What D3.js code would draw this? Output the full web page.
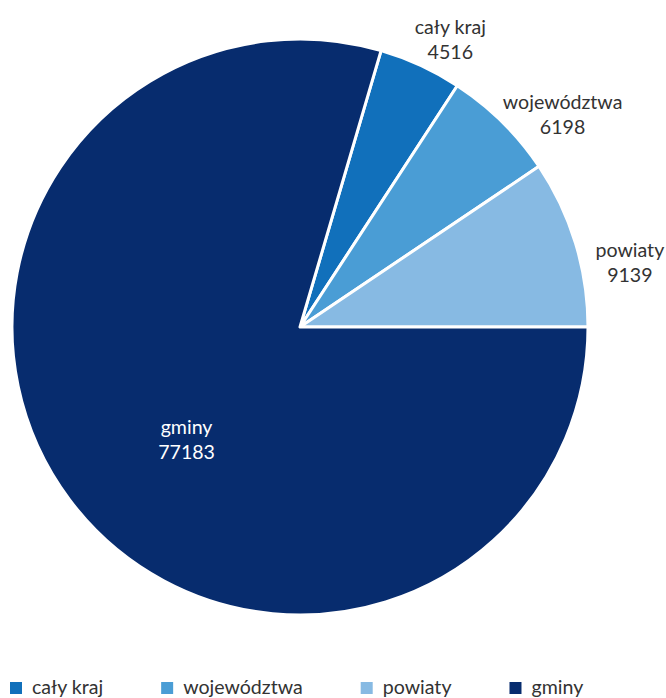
<!DOCTYPE html>
<html><head><meta charset="utf-8">
<script src="https://cdn.jsdelivr.net/npm/d3@7"></script>
<style>body{margin:0;background:#fff}svg{display:block}</style>
</head><body>
<svg id="c" width="666" height="698"></svg>
<script>
const categories = ["cały kraj", "województwa", "powiaty", "gminy"];
const values = [4516, 6198, 9139, 77183];
const colors = ["#1170BB", "#4A9DD5", "#87BAE3", "#072C6E"];

const W = 666, H = 698, cx = 300, cy = 327, R = 288;
const FONT = "Lato, 'Open Sans', sans-serif", FS = 19.6;
const svg = d3.select("#c");
const total = d3.sum(values);
const firstThree = d3.sum(values.slice(0, 3));
const start = Math.PI / 2 - firstThree / total * 2 * Math.PI;
const pie = d3.pie().sort(null).value(d => d).startAngle(start).endAngle(start + 2 * Math.PI);
const arcs = pie(values);
const arc = d3.arc().innerRadius(0).outerRadius(R);
const g = svg.append("g").attr("transform", `translate(${cx},${cy})`);
g.selectAll("path").data(arcs).join("path")
  .attr("d", arc).attr("fill", (d, i) => colors[i])
  .attr("stroke", "#fff").attr("stroke-width", 3).attr("stroke-linejoin", "round");

// labels
arcs.forEach((d, i) => {
  const mid = (d.startAngle + d.endAngle) / 2;
  const lg = g.append("g");
  const t1 = lg.append("text").text(categories[i]);
  const t2 = lg.append("text").text(values[i]);
  [t1, t2].forEach(t => t.attr("font-family", FONT).attr("font-size", FS).attr("text-anchor", "middle"));
  const w = Math.max(t1.node().getComputedTextLength(), t2.node().getComputedTextLength());
  let x, y, fill;
  if (d.endAngle - d.startAngle > Math.PI) {
    const a = mid - 0.14, r = 160;
    x = r * Math.sin(a); y = -r * Math.cos(a) - 2; fill = "#fff";
  } else {
    const r = 300;
    x = r * Math.sin(mid) + (w / 2) * Math.sin(mid) + 10;
    y = -r * Math.cos(mid) - 26 * Math.cos(2 * mid);
    fill = "#333";
  }
  t1.attr("x", x).attr("y", y - 4).attr("fill", fill);
  t2.attr("x", x).attr("y", y + 21).attr("fill", fill);
});

// legend
let lx = 10;
const ly = 688;
categories.forEach((c, i) => {
  svg.append("rect").attr("x", lx).attr("y", ly - 6).attr("width", 12).attr("height", 12).attr("fill", colors[i]);
  const t = svg.append("text").attr("x", lx + 22).attr("y", ly + 6).text(c)
    .attr("font-family", FONT).attr("font-size", FS).attr("fill", "#333");
  lx += 22 + t.node().getComputedTextLength() + 58;
});
</script>
</body></html>
